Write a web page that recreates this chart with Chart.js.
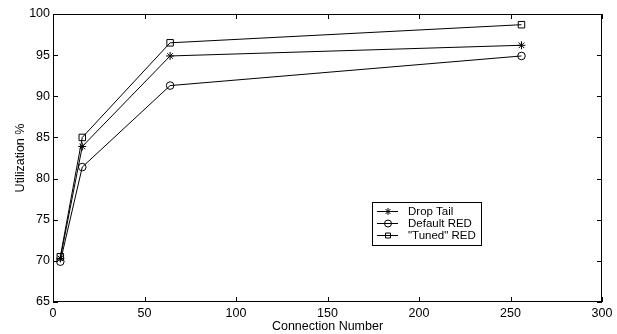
<!DOCTYPE html>
<html>
<head>
<meta charset="utf-8">
<script src="https://cdn.jsdelivr.net/npm/chart.js@4/dist/chart.umd.min.js"></script>
<style>
  html, body { margin: 0; padding: 0; background: #fff; }
  #wrap { width: 617px; height: 334px; }
</style>
</head>
<body>
<div id="wrap"><canvas id="utilChart"></canvas></div>
<script>
const connections = [4, 16, 64, 256];
const dropTail = [70.3, 83.9, 94.9, 96.2];
const defaultRed = [69.9, 81.4, 91.3, 94.9];
const tunedRed = [70.5, 85.0, 96.5, 98.7];
const xTicks = [0, 50, 100, 150, 200, 250, 300];
const yTicks = [65, 70, 75, 80, 85, 90, 95, 100];

Chart.defaults.font.family = "'Liberation Sans', Arial, sans-serif";
Chart.defaults.font.size = 12.5;
Chart.defaults.color = "#000";

function pts(ys) {
  return connections.map((x, i) => ({ x: x, y: ys[i] }));
}

const series = [
  { label: "Drop Tail", data: dropTail, style: "star", radius: 4 },
  { label: "Default RED", data: defaultRed, style: "circle", radius: 3.8 },
  { label: "\"Tuned\" RED", data: tunedRed, style: "rect", radius: 4.6 },
];

// box frame with inward ticks, like the original plot
const framePlugin = {
  id: "frame",
  afterDatasetsDraw(chart) {
    const { ctx, chartArea: a, scales } = chart;
    ctx.save();
    ctx.strokeStyle = "#000";
    ctx.lineWidth = 1;
    ctx.strokeRect(a.left + 0.5, a.top + 0.5, a.right - a.left - 1, a.bottom - a.top - 1);
    ctx.beginPath();
    xTicks.forEach((v) => {
      const px = Math.round(scales.x.getPixelForValue(v)) + 0.5;
      ctx.moveTo(px, a.bottom); ctx.lineTo(px, a.bottom - 5);
      ctx.moveTo(px, a.top); ctx.lineTo(px, a.top + 5);
    });
    yTicks.forEach((v) => {
      const py = Math.round(scales.y.getPixelForValue(v)) + 0.5;
      ctx.moveTo(a.left, py); ctx.lineTo(a.left + 5, py);
      ctx.moveTo(a.right, py); ctx.lineTo(a.right - 5, py);
    });
    ctx.stroke();

    // legend box
    const lx = 372, ly = 202, lw = 109, lh = 43;
    ctx.fillStyle = "#fff";
    ctx.fillRect(lx, ly, lw, lh);
    ctx.strokeRect(lx + 0.5, ly + 0.5, lw, lh);
    ctx.font = "11.5px 'Liberation Sans', Arial, sans-serif";
    ctx.textBaseline = "middle";
    series.forEach((s, i) => {
      const y = ly + 9.5 + i * 12;
      ctx.beginPath();
      ctx.moveTo(lx + 5, y); ctx.lineTo(lx + 26, y);
      ctx.stroke();
      ctx.fillStyle = "rgba(0,0,0,0)";
      Chart.helpers.drawPoint(ctx, {
        pointStyle: s.style, radius: 3.5, borderWidth: 1, rotation: 0,
      }, lx + 16, y);
      ctx.fillStyle = "#000";
      ctx.fillText(s.label, lx + 36, y + 0.5);
    });
    ctx.restore();
  },
};

new Chart(document.getElementById("utilChart"), {
  type: "line",
  data: {
    datasets: series.map((s) => ({
      label: s.label,
      data: pts(s.data),
      borderColor: "#000",
      borderWidth: 1,
      backgroundColor: "rgba(0,0,0,0)",
      pointStyle: s.style,
      pointRadius: s.radius,
      pointBorderColor: "#000",
      pointBackgroundColor: "rgba(0,0,0,0)",
      pointBorderWidth: 1,
      tension: 0,
      fill: false,
    })),
  },
  options: {
    responsive: true,
    maintainAspectRatio: false,
    animation: false,
    layout: { padding: { left: 0, right: 15, top: 14, bottom: 0 } },
    plugins: { legend: { display: false }, tooltip: { enabled: false } },
    scales: {
      x: {
        type: "linear",
        min: 0,
        max: 300,
        afterBuildTicks: (sc) => { sc.ticks = xTicks.map((v) => ({ value: v })); },
        afterFit: (sc) => { sc.height = 32; },
        grid: { display: false, drawTicks: false },
        border: { display: false },
        ticks: { padding: 4, maxRotation: 0 },
        title: { display: true, text: "Connection Number", padding: { top: 0, bottom: 0 } },
      },
      y: {
        type: "linear",
        min: 65,
        max: 100,
        afterBuildTicks: (sc) => { sc.ticks = yTicks.map((v) => ({ value: v })); },
        afterFit: (sc) => { sc.width = 53; },
        grid: { display: false, drawTicks: false },
        border: { display: false },
        ticks: { padding: 3 },
        title: { display: true, text: "Utilization %", padding: { top: 13, bottom: 0 } },
      },
    },
  },
  plugins: [framePlugin],
});
</script>
</body>
</html>
